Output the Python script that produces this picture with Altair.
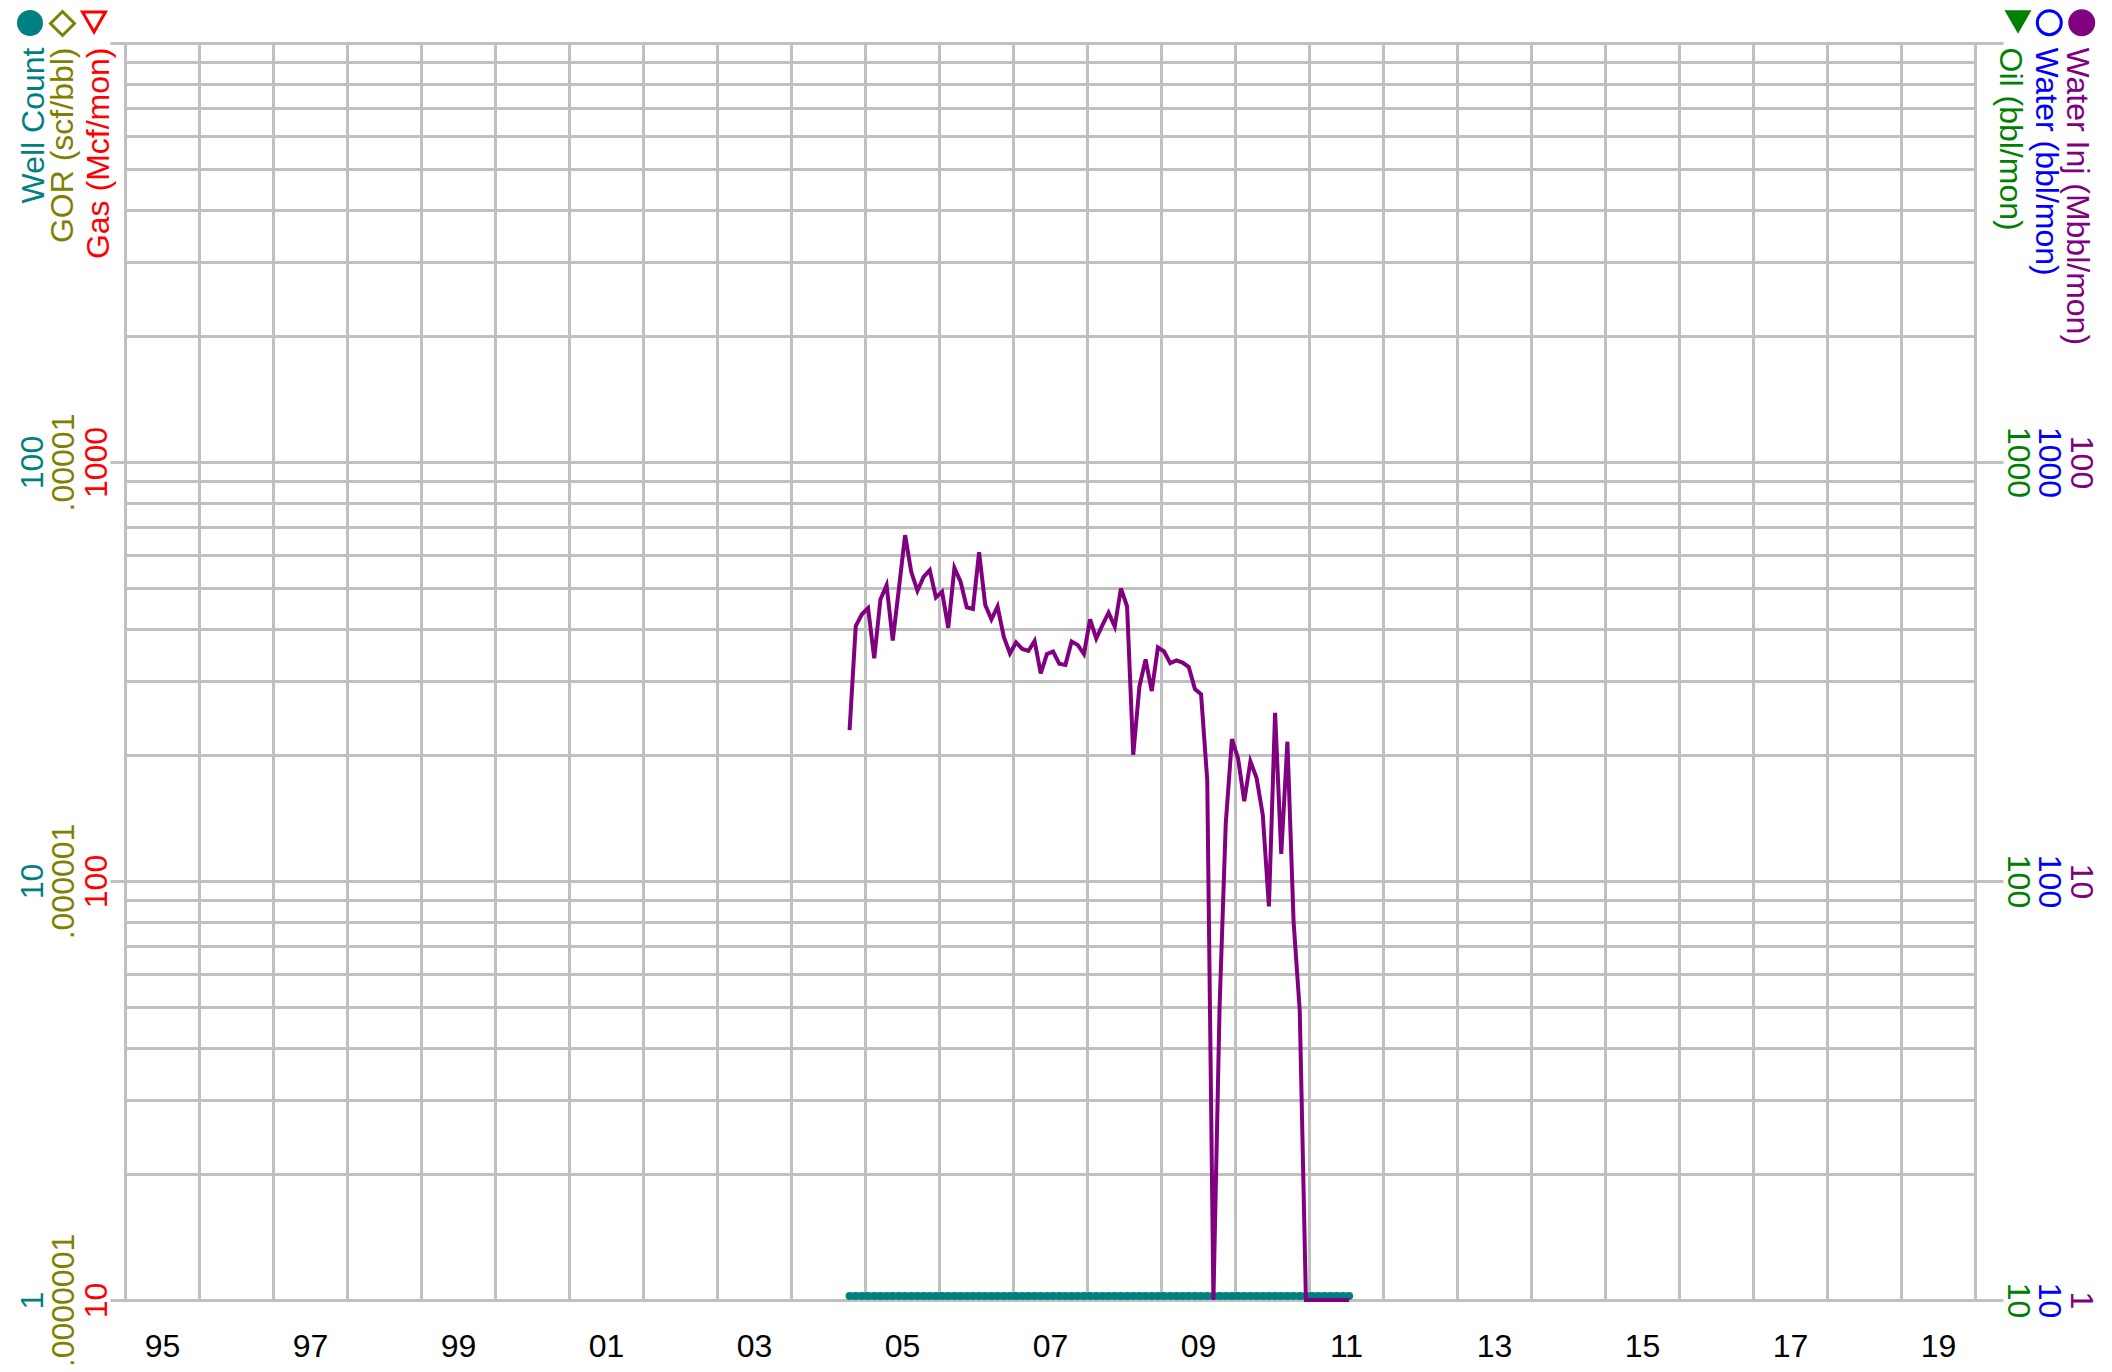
import json
import pandas as pd
import altair as alt

# ---------------- data ----------------
START_MONTH = "2004-10"

water_inj = [22.9, 40.6, 43.3, 44.8, 34.0, 47.0, 50.8, 37.5, 49.9, 66.9,
             54.7, 49.3, 53.2, 55.2, 47.5, 49.0, 40.2, 55.9, 51.8, 45.0,
             44.6, 60.9, 45.6, 42.1, 45.2, 38.3, 34.9, 37.1, 35.8, 35.4,
             37.4, 31.3, 34.8, 35.3, 33.0, 32.8, 37.3, 36.6, 34.8, 42.1,
             37.9, 40.8, 43.7, 40.5, 49.9, 45.2, 20.0, 29.1, 33.8, 28.4,
             36.1, 35.3, 33.1, 33.6, 33.2, 32.4, 28.7, 27.9, 17.4, 1.0,
             5.0, 13.7, 21.8, 19.6, 15.5, 19.3, 17.6, 14.4, 8.7, 25.2,
             11.6, 21.5, 8.0, 4.9, 1.0, 1.0, 1.0, 1.0, 1.0, 1.0,
             1.0, 1.0]

well_count = [1, 1, 1, 1, 1, 1, 1, 1, 1, 1,
              1, 1, 1, 1, 1, 1, 1, 1, 1, 1,
              1, 1, 1, 1, 1, 1, 1, 1, 1, 1,
              1, 1, 1, 1, 1, 1, 1, 1, 1, 1,
              1, 1, 1, 1, 1, 1, 1, 1, 1, 1,
              1, 1, 1, 1, 1, 1, 1, 1, 1, 1,
              1, 1, 1, 1, 1, 1, 1, 1, 1, 1,
              1, 1, 1, 1, 1, 1, 1, 1, 1, 1,
              1, 1]

# axis ticks / labels
year_grid = list(range(1995, 2021))
year_label_years = [1995, 1997, 1999, 2001, 2003, 2005, 2007, 2009,
                    2011, 2013, 2015, 2017, 2019]
major_ticks = [1, 10, 100, 1000]
minor_grid = [1, 2, 3, 4, 5, 6, 7, 8, 9,
              10, 20, 30, 40, 50, 60, 70, 80, 90,
              100, 200, 300, 400, 500, 600, 700, 800, 900, 1000]
well_labels = ["1", "10", "100"]
gor_labels = [".0000001", ".000001", ".00001"]
gas_labels = ["10", "100", "1000"]
inj_labels = ["1", "10", "100"]
water_labels = ["10", "100", "1000"]
oil_labels = ["10", "100", "1000"]

# ---------------- styling ----------------
GRID = "#c0c0c0"
TEAL = "#008080"
OLIVE = "#808000"
RED = "#ff0000"
PURPLE = "#800080"
BLUE = "#0000ff"
GREEN = "#008000"
FONT = "Liberation Sans"
FS = 32

months = pd.period_range(START_MONTH, periods=len(water_inj), freq="M")
df = pd.DataFrame({
    "year": months.year + (months.month - 0.5) / 12.0,
    "well": well_count,
    "inj": water_inj,
})

xscale = alt.Scale(domain=[1995, 2020], nice=False, zero=False)
yscale = alt.Scale(type="log", domain=[1, 1000], nice=False)


def lab_expr(labels):
    return f"{json.dumps(labels)}[round(log(datum.value)/LN10)] || ''"


x_axis = alt.Axis(
    values=year_grid, grid=True, gridColor=GRID, gridWidth=3,
    domain=True, domainColor=GRID, domainWidth=3,
    ticks=False, tickSize=0,
    labelExpr=f"indexof({json.dumps(year_label_years)}, datum.value) >= 0 ? substring(toString(datum.value), 2, 4) : ''",
    labelOffset=37, labelPadding=56, labelFontSize=FS, labelFont=FONT,
    labelColor="black", labelAlign="center", labelBaseline="alphabetic",
    labelOverlap=False, labelFlush=False, title=None,
)
X = alt.X("year:Q", scale=xscale, axis=x_axis)


def y_axis(orient, labels, color, pad, title, title_x, ticks=False,
           tick_size=0, domain=False):
    left = orient == "left"
    return alt.Axis(
        orient=orient, values=major_ticks, grid=False,
        domain=domain, domainColor=GRID, domainWidth=3,
        ticks=ticks, tickSize=tick_size, tickColor=GRID, tickWidth=3,
        labelExpr=lab_expr(labels), labelAngle=270 if left else 90,
        labelAlign="center", labelBaseline="alphabetic", labelPadding=pad,
        labelColor=color, labelFontSize=FS, labelFont=FONT,
        labelOverlap=False, labelFlush=False,
        title=title, titleAngle=270 if left else 90,
        titleAlign="right" if left else "left", titleBaseline="alphabetic",
        titleX=title_x, titleY=4, titleColor=color, titleFontSize=FS,
        titleFont=FONT, titleFontWeight="normal",
    )


base = alt.Chart(df)

grid_layer = base.mark_point(opacity=0).encode(
    x=X,
    y=alt.Y("well:Q", scale=yscale, axis=alt.Axis(
        orient="left", values=minor_grid, grid=True, gridColor=GRID,
        gridWidth=3, labels=False, ticks=False, domain=False, title=None)),
)

well_axis = y_axis("left", well_labels, TEAL, 68, "Well Count", -82,
                   ticks=True, tick_size=15, domain=True)

well_line = base.mark_line(color=TEAL, strokeWidth=7, yOffset=-4,
                           strokeCap="round").encode(
    x=X, y=alt.Y("well:Q", scale=yscale, axis=well_axis),
)
well_pts = base.mark_point(filled=True, size=64, color=TEAL, opacity=1,
                           yOffset=-4).encode(
    x=X, y=alt.Y("well:Q", scale=yscale, axis=well_axis),
)

gor_layer = base.mark_point(opacity=0).encode(
    x=X,
    y=alt.Y("well:Q", scale=yscale,
            axis=y_axis("left", gor_labels, OLIVE, 52, "GOR (scf/bbl)", -53)),
)

gas_layer = base.mark_point(opacity=0).encode(
    x=X,
    y=alt.Y("well:Q", scale=yscale,
            axis=y_axis("left", gas_labels, RED, 19, "Gas (Mcf/mon)", -17)),
)

inj_layer = base.mark_line(color=PURPLE, strokeWidth=4).encode(
    x=X,
    y=alt.Y("inj:Q", scale=yscale,
            axis=y_axis("right", inj_labels, PURPLE, 67,
                        "Water Inj (Mbbl/mon)", 91,
                        ticks=True, tick_size=28, domain=True)),
)

water_layer = base.mark_point(opacity=0).encode(
    x=X,
    y=alt.Y("inj:Q", scale=yscale,
            axis=y_axis("right", water_labels, BLUE, 63, "Water (bbl/mon)", 60)),
)

oil_layer = base.mark_point(opacity=0).encode(
    x=X,
    y=alt.Y("inj:Q", scale=yscale,
            axis=y_axis("right", oil_labels, GREEN, 32, "Oil (bbl/mon)", 24)),
)


def symbol(shape, color, filled, size, x, y):
    return alt.Chart(alt.Data(values=[{"k": 0}])).mark_point(
        shape=shape, filled=filled, color=color, size=size, strokeWidth=3,
        opacity=1,
    ).encode(x=alt.value(x), y=alt.value(y))


symbols = [
    symbol("circle", TEAL, True, 676, -95, -20),
    symbol("diamond", OLIVE, False, 576, -62.5, -19.5),
    symbol("triangle-down", RED, False, 529, -31, -21),
    symbol("circle", PURPLE, True, 729, 1956.7, -20.3),
    symbol("circle", BLUE, False, 576, 1924.3, -20.3),
    symbol("triangle-down", GREEN, True, 729, 1893, -21),
]

chart = alt.layer(
    grid_layer, alt.layer(well_line, well_pts), gor_layer, gas_layer,
    inj_layer, water_layer, oil_layer, *symbols,
).resolve_scale(y="independent").properties(
    width=1850, height=1257,
    autosize=alt.AutoSizeParams(type="none"),
    padding={"left": 117, "top": 35, "right": 128, "bottom": 64},
).configure_view(stroke="transparent")

chart.save("out.html", embed_options={"renderer": "svg", "actions": False})
